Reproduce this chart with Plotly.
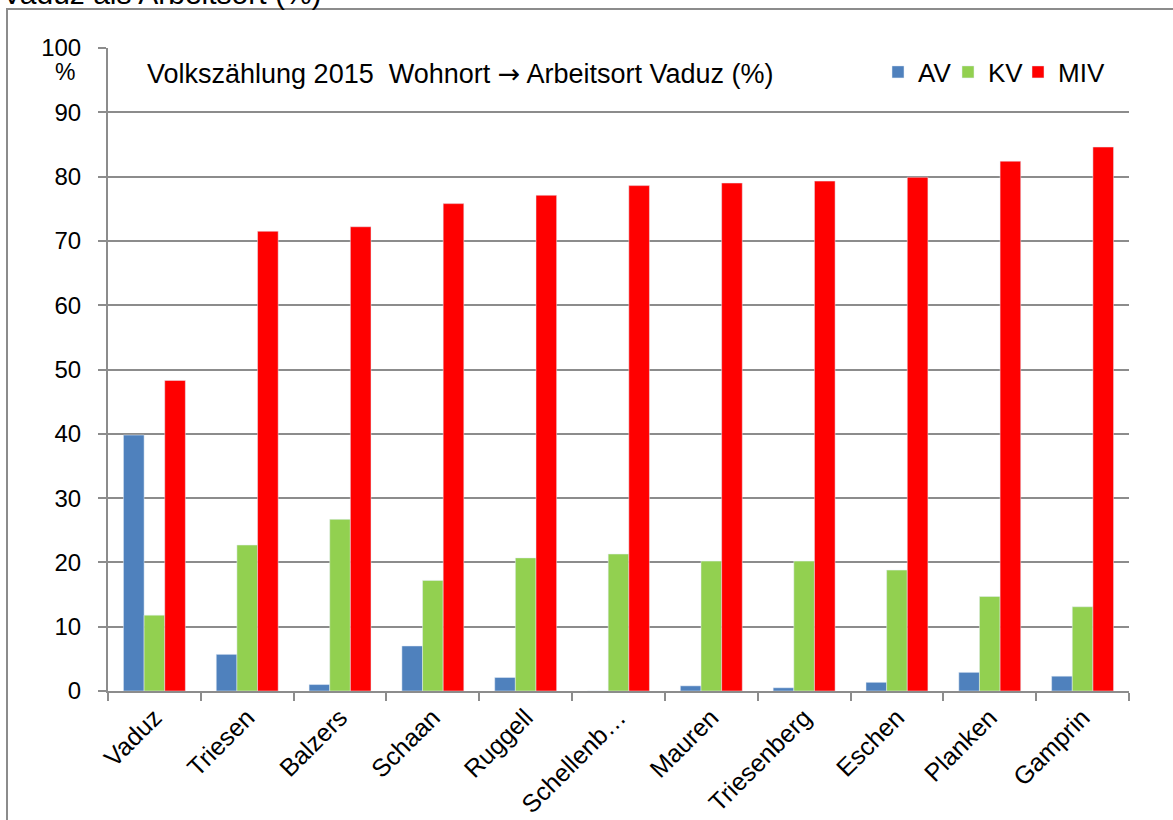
import plotly.graph_objects as go

categories = ["Vaduz", "Triesen", "Balzers", "Schaan", "Ruggell", "Schellenb…",
              "Mauren", "Triesenberg", "Eschen", "Planken", "Gamprin"]
av = [39.8, 5.7, 1.0, 7.0, 2.1, 0.0, 0.8, 0.5, 1.35, 2.9, 2.3]
kv = [11.8, 22.7, 26.7, 17.2, 20.7, 21.3, 20.2, 20.2, 18.8, 14.7, 13.1]
miv = [48.3, 71.5, 72.2, 75.8, 77.1, 78.6, 79.0, 79.3, 79.9, 82.4, 84.6]
y_ticks = [0, 10, 20, 30, 40, 50, 60, 70, 80, 90, 100]

FONT = "Liberation Sans, Arial, sans-serif"
GRID = "#8c8c8c"

fig = go.Figure()
fig.add_trace(go.Bar(name="AV", x=categories, y=av, marker_color="#4F81BD"))
fig.add_trace(go.Bar(name="KV", x=categories, y=kv, marker_color="#92D050"))
fig.add_trace(go.Bar(name="MIV", x=categories, y=miv, marker_color="#FF0000"))
# spacer entry so the last legend label is not clipped
fig.add_trace(go.Scatter(name="\u00a0\u00a0", x=[None], y=[None], mode="markers",
                         marker=dict(color="rgba(0,0,0,0)"), hoverinfo="skip"))

W, H = 1173, 820
L, R, T, B = 108, 44, 48, 129
pw, ph = W - L - R, H - T - B


def px(x):
    return (x - L) / pw


def py(y):
    return (H - B - y) / ph


fig.update_layout(
    width=W, height=H,
    margin=dict(l=L, r=R, t=T, b=B, pad=0),
    paper_bgcolor="white", plot_bgcolor="white",
    font=dict(family=FONT, size=24, color="black"),
    barmode="group", bargap=0.333, bargroupgap=0,
    showlegend=True,
    legend=dict(orientation="h", x=px(878), y=py(72), xanchor="left", yanchor="middle",
                bgcolor="rgba(0,0,0,0)", borderwidth=0, font=dict(size=26),
                itemwidth=30, traceorder="normal", entrywidth=25,
                entrywidthmode="pixels"),
    xaxis=dict(type="category", tickangle=-45, tickson="boundaries",
               ticks="outside", ticklen=8, tickwidth=2, tickcolor=GRID,
               showline=True, linecolor=GRID, linewidth=2,
               showgrid=False, tickfont=dict(size=25), automargin=False),
    yaxis=dict(range=[0, 100], tickvals=y_ticks, ticks="outside", ticklen=8,
               tickwidth=2, tickcolor=GRID, showline=True, linecolor=GRID,
               linewidth=2, showgrid=True, gridcolor=GRID, gridwidth=2,
               zeroline=False, tickfont=dict(size=24), automargin=False,
               ticklabelstandoff=12),
)

fig.add_annotation(
    text="Volkszählung 2015  Wohnort <span style='font-family:DejaVu Sans'>→</span> Arbeitsort Vaduz (%)",
    xref="paper", yref="paper", x=px(145), y=py(74),
    xanchor="left", yanchor="middle", showarrow=False, font=dict(size=27))
fig.add_annotation(text="%", xref="paper", yref="paper", x=px(65), y=py(72),
                   xanchor="center", yanchor="middle", showarrow=False,
                   font=dict(size=23))
fig.add_annotation(text="Vaduz als Arbeitsort (%)", xref="paper", yref="paper",
                   x=px(0), y=py(12), xanchor="left", yanchor="bottom",
                   showarrow=False, font=dict(size=30))
fig.add_shape(type="rect", xref="paper", yref="paper",
              x0=px(7), x1=px(1200), y0=py(840), y1=py(9),
              line=dict(color="#8c8c8c", width=2), layer="below")
fig.add_shape(type="rect", xref="paper", yref="paper",
              x0=px(874), x1=px(1105), y0=py(60), y1=py(38),
              line=dict(width=0), fillcolor="white", layer="between")

fig.write_html("out.html", config={"displayModeBar": False},
               post_script="document.body.style.margin='0';")
